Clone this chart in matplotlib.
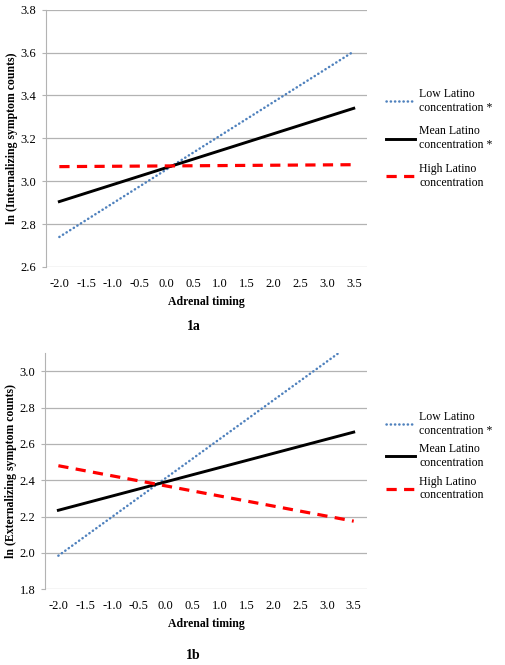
import numpy as np
import matplotlib
matplotlib.use('Agg')
import matplotlib.pyplot as plt

plt.rcParams['font.family'] = ['Liberation Serif', 'DejaVu Serif']

#-- data (values read at the two ends of each line)
timing = [-2.0, 3.5]
ticks = [-2.0, -1.5, -1.0, -0.5, 0.0, 0.5, 1.0, 1.5, 2.0, 2.5, 3.0, 3.5]

int_low = [2.74, 3.605]
int_mean = [2.905, 3.34]
int_high = [3.068, 3.077]

ext_low = [1.985, 3.16]
ext_mean = [2.235, 2.665]
ext_high = [2.48, 2.175]

int_labels = ['Low Latino\nconcentration *', 'Mean Latino\nconcentration *',
              'High Latino\nconcentration']
ext_labels = ['Low Latino\nconcentration *', 'Mean Latino\nconcentration',
              'High Latino\nconcentration']

grey = '#b3b3b3'

def panel(ax, low, mean, high, labels, ylim, yticks, ylabel, tag, tag_y,
          leg_y, spacing):
    ax.plot(timing, low, color='#4f81bd', lw=1.8, ls=(0, (0.1, 1.6)),
            dash_capstyle='round', label=labels[0])
    ax.plot(timing, mean, color='black', lw=2.1, label=labels[1])
    ax.plot(timing, high, color='#ff0000', lw=2.3, ls=(0, (3.2, 2.3)),
            label=labels[2])

    ax.set_xlim(-2.25, 3.75)
    ax.set_ylim(*ylim)
    ax.set_xticks(ticks)
    ax.set_xticklabels(['%.1f' % t for t in ticks])
    ax.set_yticks(yticks)
    ax.set_yticklabels(['%.1f' % t for t in yticks])
    ax.grid(axis='y', color=grey, lw=0.9)
    ax.set_axisbelow(True)
    for s in ('top', 'right', 'bottom'):
        ax.spines[s].set_visible(False)
    ax.spines['left'].set_color(grey)
    ax.tick_params(axis='x', length=0, labelsize=9, pad=8)
    ax.tick_params(axis='y', length=3, color=grey, labelsize=9, pad=4)
    ax.set_xlabel('Adrenal timing', fontsize=8.5, fontweight='bold', labelpad=4)
    ax.set_ylabel(ylabel, fontsize=8.5, fontweight='bold', labelpad=2)
    ax.text(0.46, tag_y, tag, transform=ax.transAxes,
            ha='center', va='center', fontsize=10, fontweight='bold')
    ax.legend(loc='upper left', bbox_to_anchor=(1.045, leg_y), frameon=False,
              fontsize=8.5, handlelength=2.4, handletextpad=0.4,
              labelspacing=spacing, borderaxespad=0)

fig = plt.figure(figsize=(5.05, 6.65), dpi=100)
ax1 = fig.add_axes([0.091, 0.5985, 0.636, 0.387])
ax2 = fig.add_axes([0.089, 0.1138, 0.638, 0.3553])

panel(ax1, int_low, int_mean, int_high, int_labels, (2.6, 3.8),
      np.arange(2.6, 3.81, 0.2), 'ln (Internalizing symptom counts)',
      '1a', -0.23, 0.715, 1.0)
panel(ax2, ext_low, ext_mean, ext_high, ext_labels, (1.8, 3.1),
      np.arange(1.8, 3.01, 0.2), 'ln (Externalizing symptom counts)',
      '1b', -0.28, 0.775, 0.55)

plt.savefig('out.png', dpi=100)
